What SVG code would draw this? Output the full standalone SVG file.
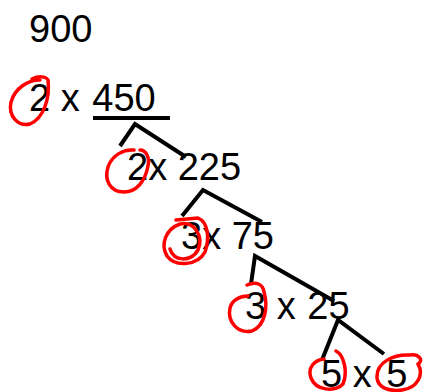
<svg xmlns="http://www.w3.org/2000/svg" width="427" height="392" viewBox="0 0 427 392">
<style>
.t{font-family:"Liberation Sans",Arial,sans-serif;font-size:38px;fill:#000}
.b{stroke:#000;stroke-width:4;fill:none;stroke-linecap:butt;stroke-linejoin:miter}
.r{stroke:#f00;stroke-width:3.5;fill:none;stroke-linecap:round;stroke-linejoin:round}
</style>
<rect width="427" height="392" fill="#fff"/>
<g id="n900"><text class="t" x="29" y="42">900</text></g>
<g id="n450"><text class="t" x="29" y="111">2 x <tspan dx="2">450</tspan></text></g>
<g id="n225"><text class="t" x="127" y="180">2x 225</text></g>
<g id="n75"><text class="t" x="181" y="249">3x 75</text></g>
<g id="n25"><text class="t" x="245" y="319">3 x <tspan dx="1">25</tspan></text></g>
<g id="n5"><text class="t" x="321" y="387">5 x<tspan dx="4"> 5</tspan></text></g>
<g id="connectors">
<path class="b" d="M93 118 H170"/>
<path class="b" d="M120 146 L135 124 L186 157"/>
<path class="b" d="M182 216 L203 190 L262 222"/>
<path class="b" d="M251 284 L255 256 L334 301"/>
<path class="b" d="M322 360 L338 320 L384 354"/>
</g>
<g id="circles">
<path class="r" d="M32 79 C38 76 46 76 48 80 C50 98 44 118 30 124 C18 127 8 116 11 102 C15 88 28 80 40 80"/>
<path class="r" d="M140 150 C146 150 150 158 148 166 C145 182 136 192 124 192 C110 192 104 180 108 167 C112 155 124 149 134 150"/>
<path class="r" d="M176 220 L198 218 C208 222 210 238 205 252 C198 265 176 268 167 256 C160 244 166 229 180 224 C194 221 204 236 198 250 C191 262 174 262 170 249"/>
<path class="r" d="M247 285 C256 281 263 284 264 292 C268 306 266 325 252 331 C238 334 227 322 230 308 C232 300 240 296 248 296"/>
<path class="r" d="M336 351 C344 355 348 372 343 384 C335 392 316 391 311 378 C307 367 315 360 324 359"/>
<path class="r" d="M377 378 C376 362 394 354 410 355 C419 354 424 360 418 364 C424 374 418 388 402 390 C388 392 378 387 377 378"/>
</g>
</svg>
